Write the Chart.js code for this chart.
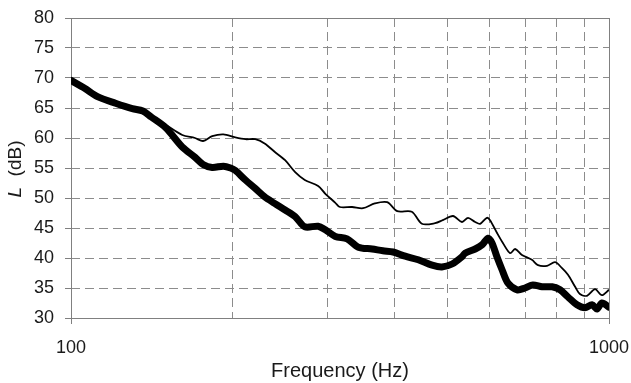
<!DOCTYPE html>
<html>
<head>
<meta charset="utf-8">
<script src="https://cdn.jsdelivr.net/npm/chart.js@4.4.1/dist/chart.umd.min.js"></script>
<style>
  html, body { margin: 0; padding: 0; background: #fff; }
  #wrap { width: 631px; height: 383px; position: relative; }
</style>
</head>
<body>
<div id="wrap"><canvas id="c"></canvas></div>
<script>
// ---- data ----
const thickFreq = [100,106,112,121,130,136,141,150,161,170,176,183,192,198,202,211,220,229,239,250,261,272,288,297,310,326,342,363,380,397,418,442,469,489,511,533,540,564,581,596,606,619,633,649,675,698,722,751,784,811,839,872,902,930,950,970,1000];
const thickLevel = [69.6,68.3,66.9,65.8,64.9,64.5,63.5,61.7,58.5,56.8,55.6,55.1,55.3,55.0,54.6,53.0,51.6,50.2,49.1,48.0,46.9,45.2,45.3,44.7,43.6,43.2,41.8,41.5,41.2,41.0,40.3,39.7,38.8,38.5,39.0,40.2,40.8,41.5,42.2,43.3,42.5,40.2,38.0,35.8,34.7,35.0,35.5,35.2,35.2,34.7,33.5,32.2,31.7,32.2,31.5,32.5,31.8];
const thinFreq = [100,106,112,121,130,141,150,161,170,176,183,192,202,211,220,229,239,250,261,272,288,297,310,316,333,349,367,387,404,430,449,475,491,513,533,547,564,576,593,601,619,635,655,669,689,719,738,767,794,818,839,865,883,910,942,970,1000];
const thinLevel = [69.6,68.3,66.9,65.8,64.9,63.7,62.2,60.5,60.0,59.5,60.3,60.6,60.1,59.8,59.8,59.1,57.7,56.3,54.3,53.0,52.0,50.7,49.2,48.5,48.5,48.3,49.1,49.3,47.8,47.7,45.7,45.8,46.3,47.0,46.0,46.7,46.0,45.7,46.7,46.3,44.2,42.5,40.8,41.5,40.5,39.7,38.8,38.7,39.3,38.3,37.2,35.2,34.0,33.7,34.8,33.8,34.7];
const xTicks = [100,200,300,400,500,600,700,800,900,1000];
const xLabelled = [100,1000];
const yMin = 30, yMax = 80, yStep = 5;
const xTitle = 'Frequency (Hz)';
const yTitleItalic = 'L';
const yTitleRest = '  (dB)';

const FONT = '"Liberation Sans", Arial, sans-serif';
const GRID = '#8c8c8c';
const AXIS = '#808080';
const TEXT = '#1a1a1a';

const toPts = (fs, ls) => fs.map((f, i) => ({ x: f, y: ls[i] }));

const frame = {
  id: 'frame',
  beforeDatasetsDraw(chart) {
    const { ctx, chartArea: a } = chart;
    ctx.save();
    ctx.strokeStyle = AXIS;
    ctx.lineWidth = 1;
    ctx.strokeRect(Math.round(a.left) + 0.5, Math.round(a.top) + 0.5,
      Math.round(a.right - a.left), Math.round(a.bottom - a.top));
    ctx.restore();
  },
  afterDraw(chart) {
    const { ctx, chartArea: a } = chart;
    ctx.save();
    ctx.translate(16, (a.top + a.bottom) / 2 + 1);
    ctx.rotate(-Math.PI / 2);
    ctx.fillStyle = TEXT;
    ctx.textBaseline = 'middle';
    const fi = 'italic 19px ' + FONT;
    const fn = '19px ' + FONT;
    ctx.font = fi; const w1 = ctx.measureText(yTitleItalic).width;
    ctx.font = fn; const w2 = ctx.measureText(yTitleRest).width;
    const x0 = -(w1 + w2) / 2;
    ctx.textAlign = 'left';
    ctx.font = fi; ctx.fillText(yTitleItalic, x0, 0);
    ctx.font = fn; ctx.fillText(yTitleRest, x0 + w1, 0);
    ctx.restore();
  }
};

new Chart(document.getElementById('c'), {
  type: 'scatter',
  data: {
    datasets: [
      { data: toPts(thickFreq, thickLevel), showLine: true, borderColor: '#000', borderWidth: 7,
        pointRadius: 0, tension: 0.3, borderJoinStyle: 'round', borderCapStyle: 'round' },
      { data: toPts(thinFreq, thinLevel), showLine: true, borderColor: '#000', borderWidth: 1.8,
        pointRadius: 0, tension: 0.3, borderJoinStyle: 'round' }
    ]
  },
  options: {
    responsive: true,
    maintainAspectRatio: false,
    animation: false,
    devicePixelRatio: 1,
    layout: { padding: { top: 18, right: 22, left: 0, bottom: 0 } },
    plugins: { legend: { display: false }, tooltip: { enabled: false } },
    scales: {
      x: {
        type: 'logarithmic', min: 100, max: 1000,
        afterBuildTicks: s => { s.ticks = xTicks.map(v => ({ value: v })); },
        afterFit: s => { s.height = 65; s.paddingRight = 0; s.paddingLeft = 0; },
        ticks: {
          autoSkip: false, maxRotation: 0, padding: 13, color: TEXT,
          font: { family: FONT, size: 18 },
          callback: v => xLabelled.includes(v) ? String(v) : ''
        },
        grid: {
          color: c => (c.tick && xLabelled.includes(c.tick.value)) ? 'transparent' : GRID,
          tickColor: c => (c.tick && xLabelled.includes(c.tick.value)) ? AXIS : 'transparent',
          tickLength: 6, lineWidth: 1
        },
        border: { display: false, dash: [9, 5] },
        title: { display: true, text: xTitle, color: TEXT, font: { family: FONT, size: 20 }, padding: { top: 0, bottom: 0 } }
      },
      y: {
        min: yMin, max: yMax,
        afterFit: s => { s.width = 71; s.paddingTop = 0; s.paddingBottom = 0; },
        ticks: { stepSize: yStep, padding: 11, color: TEXT, font: { family: FONT, size: 18 } },
        grid: {
          color: c => (c.tick && (c.tick.value === yMin || c.tick.value === yMax)) ? 'transparent' : GRID,
          tickColor: AXIS, tickLength: 6, lineWidth: 1
        },
        border: { display: false, dash: [9, 5] }
      }
    }
  },
  plugins: [frame]
});
</script>
</body>
</html>
